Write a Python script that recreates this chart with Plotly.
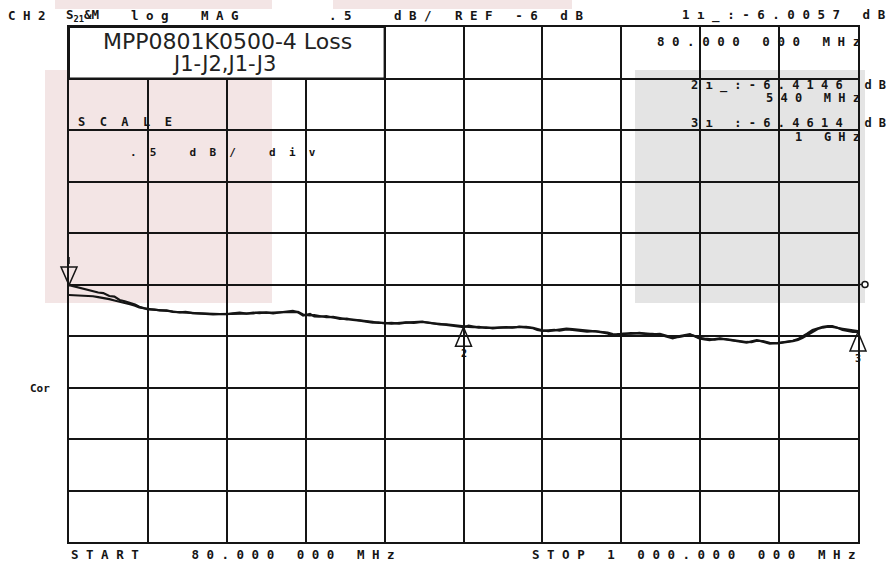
import plotly.graph_objects as go

# ---------------- data ----------------
freq_mhz = [80, 86, 92, 100, 108, 114, 120, 127, 133, 139, 145, 151, 157, 162, 167, 172,
            179, 186, 194, 201, 209, 216, 224, 232, 240, 248, 256, 264, 271, 279, 287, 295,
            302, 310, 318, 326, 334, 341, 347, 353, 361, 366, 372, 380, 388, 396, 404, 411,
            419, 427, 434, 441, 448, 456, 465, 473, 482, 492, 500, 506, 512, 520, 527, 534,
            540, 546, 551, 558, 566, 574, 582, 590, 597, 605, 613, 621, 626, 632, 639, 646,
            652, 660, 667, 675, 684, 693, 702, 708, 714, 720, 726, 735, 745, 752, 760, 769,
            776, 784, 792, 798, 804, 810, 815, 821, 827, 833, 839, 846, 854, 862, 870, 876,
            882, 889, 897, 906, 915, 924, 930, 935, 941, 947, 953, 959, 965, 970, 976, 982,
            988, 994, 1000]

trace_j1j2_db = [-6.006, -6.020, -6.034, -6.052, -6.070, -6.078, -6.083, -6.112, -6.118, -6.150,
                 -6.162, -6.177, -6.195, -6.216, -6.228, -6.241, -6.244, -6.248, -6.257, -6.262,
                 -6.270, -6.266, -6.278, -6.280, -6.286, -6.288, -6.284, -6.289, -6.280, -6.274,
                 -6.282, -6.272, -6.277, -6.270, -6.280, -6.274, -6.262, -6.255, -6.270, -6.301,
                 -6.286, -6.310, -6.313, -6.306, -6.322, -6.335, -6.330, -6.345, -6.351, -6.358,
                 -6.371, -6.368, -6.377, -6.372, -6.379, -6.370, -6.366, -6.361, -6.374, -6.382,
                 -6.383, -6.392, -6.398, -6.405, -6.415, -6.400, -6.408, -6.418, -6.415, -6.425,
                 -6.418, -6.414, -6.420, -6.410, -6.416, -6.425, -6.440, -6.451, -6.446, -6.440,
                 -6.449, -6.436, -6.442, -6.450, -6.458, -6.452, -6.468, -6.475, -6.495, -6.482,
                 -6.481, -6.472, -6.474, -6.480, -6.478, -6.485, -6.505, -6.524, -6.500, -6.490,
                 -6.483, -6.505, -6.524, -6.532, -6.539, -6.530, -6.522, -6.534, -6.546, -6.556,
                 -6.565, -6.552, -6.539, -6.555, -6.573, -6.568, -6.558, -6.546, -6.530, -6.507,
                 -6.475, -6.442, -6.425, -6.410, -6.405, -6.403, -6.420, -6.442, -6.450, -6.461,
                 -6.461]

trace_j1j3_db = [-6.102, -6.104, -6.108, -6.110, -6.114, -6.122, -6.130, -6.142, -6.155, -6.165,
                 -6.178, -6.192, -6.205, -6.222, -6.231, -6.238, -6.246, -6.252, -6.250, -6.266,
                 -6.268, -6.272, -6.276, -6.283, -6.282, -6.290, -6.287, -6.285, -6.284, -6.278,
                 -6.276, -6.280, -6.270, -6.276, -6.272, -6.270, -6.268, -6.262, -6.265, -6.292,
                 -6.300, -6.296, -6.306, -6.318, -6.315, -6.328, -6.338, -6.340, -6.348, -6.352,
                 -6.362, -6.374, -6.372, -6.380, -6.376, -6.368, -6.372, -6.364, -6.370, -6.378,
                 -6.388, -6.386, -6.395, -6.400, -6.408, -6.412, -6.414, -6.412, -6.422, -6.420,
                 -6.424, -6.420, -6.416, -6.418, -6.412, -6.420, -6.432, -6.445, -6.452, -6.444,
                 -6.440, -6.428, -6.432, -6.440, -6.448, -6.458, -6.460, -6.466, -6.482, -6.488,
                 -6.476, -6.478, -6.470, -6.476, -6.484, -6.480, -6.495, -6.516, -6.508, -6.496,
                 -6.488, -6.500, -6.518, -6.526, -6.534, -6.536, -6.528, -6.530, -6.540, -6.550,
                 -6.558, -6.560, -6.546, -6.550, -6.566, -6.572, -6.564, -6.550, -6.538, -6.520,
                 -6.490, -6.458, -6.432, -6.418, -6.410, -6.412, -6.418, -6.430, -6.438, -6.445,
                 -6.452]

marker_freq_mhz = [80, 540, 1000]
marker_db = [-6.0057, -6.4146, -6.4614]
marker_names = ["1", "2", "3"]
marker_freq_text = ["80.000 000 MHz", "540 MHz", "1 GHz"]

start_mhz, stop_mhz = 80, 1000
ref_db, scale_db = -6.0, 0.5
n_div = 10

title_lines = ["MPP0801K0500-4 Loss", "J1-J2,J1-J3"]
start_text = "START   80.000 000 MHz"
stop_text = "STOP 1 000.000 000 MHz"

# ---------------- layout geometry ----------------
W, H = 891, 565
L, R, T, B = 69, 33, 27, 23
PW, PH = W - L - R, H - T - B
y_top = ref_db + (n_div / 2) * scale_db
y_bot = ref_db - (n_div / 2) * scale_db

def X(px):
    return (px - L) / PW

def Y(py):
    return (H - B - py) / PH

def sp(s, n=1):
    return ("\u00a0" * n).join(s.replace(" ", "\u00a0"))

INK = "#151515"
MONO = "DejaVu Sans Mono"
FS = 12.5

fig = go.Figure()
for ys in (trace_j1j2_db, trace_j1j3_db):
    fig.add_trace(go.Scatter(x=freq_mhz, y=ys, mode="lines",
                             line=dict(color=INK, width=2.2), showlegend=False,
                             hoverinfo="skip"))

shapes = []
# faint background blocks of the scanned page
shapes.append(dict(type="rect", xref="paper", yref="paper", x0=X(45), x1=X(272), y0=Y(303), y1=Y(70),
                   fillcolor="#f3e5e5", line=dict(width=0), layer="below"))
shapes.append(dict(type="rect", xref="paper", yref="paper", x0=X(55), x1=X(272), y0=Y(9), y1=Y(0),
                   fillcolor="#f3e5e5", line=dict(width=0), layer="below"))
shapes.append(dict(type="rect", xref="paper", yref="paper", x0=X(333), x1=X(572), y0=Y(9), y1=Y(0),
                   fillcolor="#f3e5e5", line=dict(width=0), layer="below"))
shapes.append(dict(type="rect", xref="paper", yref="paper", x0=X(635), x1=X(865), y0=Y(303), y1=Y(70),
                   fillcolor="#e4e4e4", line=dict(width=0), layer="below"))
# title box
shapes.append(dict(type="rect", xref="paper", yref="paper", x0=0, x1=0.4, y0=0.9, y1=1.0,
                   fillcolor="white", line=dict(color=INK, width=2), layer="above"))

# marker triangles (tip on the trace value)
for i, (f, v) in enumerate(zip(marker_freq_mhz, marker_db)):
    xa = (f - start_mhz) / (stop_mhz - start_mhz)
    ya = (v - y_bot) / (y_top - y_bot)
    if i == 0:
        path = "M0,0 L-8,18 L8,18 Z M0,21 L0,28"
    else:
        path = "M0,0 L-8,-19 L8,-19 Z"
    shapes.append(dict(type="path", xref="paper", yref="paper", xsizemode="pixel", ysizemode="pixel",
                       xanchor=xa, yanchor=ya, path=path,
                       line=dict(color=INK, width=1.5), fillcolor="rgba(0,0,0,0)", layer="above"))

# reference-position indicator
ya_ref = (ref_db - y_bot) / (y_top - y_bot)
shapes.append(dict(type="circle", xref="paper", yref="paper", xsizemode="pixel", ysizemode="pixel",
                   xanchor=1.0, yanchor=ya_ref, x0=4, x1=10, y0=-3, y1=3,
                   line=dict(color=INK, width=1.5), fillcolor="white", layer="above"))
shapes.append(dict(type="path", xref="paper", yref="paper", xsizemode="pixel", ysizemode="pixel",
                   xanchor=1.0, yanchor=ya_ref, path="M0,0 L4,0",
                   line=dict(color=INK, width=1.5), layer="above"))

ann = []

def txt(s, px, py, anchor="left", size=FS, bold=True, family=MONO, color=INK):
    ann.append(dict(text=s, x=X(px), y=Y(py), xref="paper", yref="paper", showarrow=False,
                    xanchor=anchor, yanchor="middle",
                    font=dict(family=family, size=size, color=color,
                              weight="bold" if bold else "normal")))

# header line
txt(sp("CH2"), 6, 15)
txt("S<sub>21</sub>&M", 64, 15)
txt(sp("log"), 129, 15)
txt(sp("MAG"), 199, 15)
txt(sp(".5"), 327, 15)
txt(sp("dB/"), 392, 15)
txt(sp(f"REF {ref_db:g} dB"), 453, 15)
txt(sp(f"{marker_names[0]}\u0131_:{marker_db[0]:.4f} dB"), 888, 15, anchor="right")

# marker readouts
txt(sp(marker_freq_text[0]), 862, 42, anchor="right")
txt(sp(f"{marker_names[1]}\u0131_:{marker_db[1]:.4f} dB"), 888, 86, anchor="right", size=12)
txt(sp(marker_freq_text[1]), 862, 98, anchor="right", size=12)
txt(sp(f"{marker_names[2]}\u0131_:{marker_db[2]:.4f} dB"), 888, 124, anchor="right", size=12)
txt(sp(marker_freq_text[2]), 862, 137, anchor="right", size=12)

# scale text
txt(sp("SCALE", 2), 76, 122, size=12)
txt(sp(f"{scale_db:g}".lstrip("0") + " dB/ div", 2), 128, 152, size=11)
txt("Cor", 28, 388, size=11)

# start / stop
txt(sp(start_text), 69, 554)
txt(sp(stop_text), 858, 554, anchor="right")

# title
txt(title_lines[0], 227, 41, anchor="center", size=22, bold=False, family="DejaVu Sans", color="#222")
txt(title_lines[1], 224, 64, anchor="center", size=21, bold=False, family="DejaVu Sans", color="#222")

# marker numbers under triangles
for f, v, nm in list(zip(marker_freq_mhz, marker_db, marker_names))[1:]:
    ann.append(dict(text=nm, x=f, y=v, xref="x", yref="y", showarrow=False, yshift=-26,
                    xanchor="center", yanchor="middle",
                    font=dict(family=MONO, size=10, color=INK, weight="bold")))

fig.update_layout(
    width=W, height=H, margin=dict(l=L, r=R, t=T, b=B),
    paper_bgcolor="white", plot_bgcolor="white",
    shapes=shapes, annotations=ann, showlegend=False,
    xaxis=dict(range=[start_mhz, stop_mhz], tick0=start_mhz, dtick=(stop_mhz - start_mhz) / n_div,
               showgrid=True, gridcolor=INK, gridwidth=2, showline=True, linecolor=INK, linewidth=2,
               mirror=True, showticklabels=False, ticks="", zeroline=False, fixedrange=True),
    yaxis=dict(range=[y_bot, y_top], tick0=y_bot, dtick=scale_db,
               showgrid=True, gridcolor=INK, gridwidth=2, showline=True, linecolor=INK, linewidth=2,
               mirror=True, showticklabels=False, ticks="", zeroline=False, fixedrange=True),
)

fig.write_html("out.html", config={"displayModeBar": False},
               post_script="document.body.style.margin='0';document.body.style.padding='0';")
